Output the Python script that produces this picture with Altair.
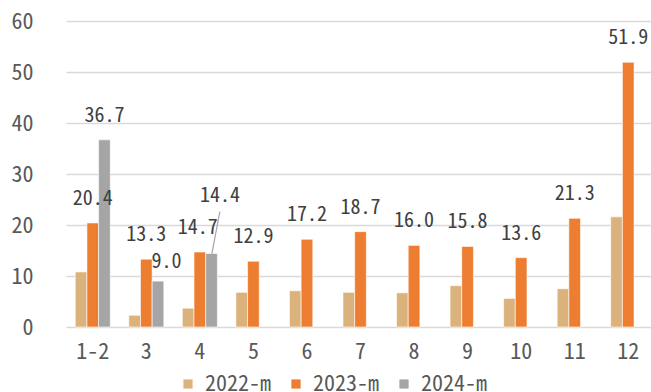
import altair as alt
import pandas as pd

# Monthly values per series
months = ["1-2", "3", "4", "5", "6", "7", "8", "9", "10", "11", "12"]
series = ["2022-m", "2023-m", "2024-m"]
v2022 = [10.8, 2.3, 3.7, 6.8, 7.1, 6.8, 6.7, 8.1, 5.6, 7.5, 21.6]
v2023 = [20.4, 13.3, 14.7, 12.9, 17.2, 18.7, 16.0, 15.8, 13.6, 21.3, 51.9]
v2024 = [36.7, 9.0, 14.4]
colors = ["#DBB27C", "#ED7D31", "#A5A5A5"]

rows = []
for name, vals in zip(series, [v2022, v2023, v2024]):
    for m, v in zip(months, vals):
        rows.append({"month": m, "series": name, "value": v})
df = pd.DataFrame(rows)

FONT = "Noto Sans Mono CJK SC, DejaVu Sans Mono"

x_scale = alt.Scale(domain=months, range=[0, 589], paddingInner=0.346, paddingOuter=0.173)
x_enc = alt.X("month:N", scale=x_scale, sort=months,
              axis=alt.Axis(title=None, labelAngle=0, ticks=False, domain=False,
                            labelFontSize=22, labelColor="#595959", labelPadding=14))
xo_enc = alt.XOffset("series:N", scale=alt.Scale(domain=series, paddingInner=0, paddingOuter=0))
y_enc = alt.Y("value:Q", scale=alt.Scale(domain=[0, 60], nice=False),
              axis=alt.Axis(title=None, values=[0, 10, 20, 30, 40, 50, 60], ticks=False,
                            domain=False, labelFontSize=22, labelColor="#595959",
                            labelPadding=33, gridColor="#D9D9D9", gridWidth=1.5))

base = alt.Chart(df)

bars = base.mark_bar(stroke="white", strokeWidth=0.6).encode(
    x=x_enc,
    xOffset=xo_enc,
    y=y_enc,
    color=alt.Color("series:N", scale=alt.Scale(domain=series, range=colors),
                    legend=alt.Legend(title=None, orient="none", direction="horizontal",
                                      legendX=111, legendY=352, padding=0,
                                      symbolType="square", symbolSize=85,
                                      symbolStrokeWidth=0, labelFontSize=22,
                                      labelColor="#595959", labelOffset=6,
                                      columnPadding=13)),
)

text_style = dict(fontSize=20, color="#404040", baseline="middle", align="center")
text_enc = dict(x=alt.X("month:N", scale=x_scale, sort=months), xOffset=xo_enc,
                y="value:Q", text=alt.Text("value:Q", format=".1f"))

labels_std = base.mark_text(dy=-24, **text_style).encode(**text_enc).transform_filter(
    "datum.series != '2022-m' && !(datum.series == '2024-m' && datum.month != '1-2')"
    " && !(datum.series == '2023-m' && datum.month == '4')"
)
label_47 = base.mark_text(dy=-24, dx=-2, **text_style).encode(**text_enc).transform_filter(
    "datum.series == '2023-m' && datum.month == '4'"
)
label_90 = base.mark_text(dy=-19, dx=8.5, **text_style).encode(**text_enc).transform_filter(
    "datum.series == '2024-m' && datum.month == '3'"
)
label_144 = base.mark_text(dy=-58, dx=8.5, **text_style).encode(**text_enc).transform_filter(
    "datum.series == '2024-m' && datum.month == '4'"
)

# Leader line from the 14.4 label down to its bar
leader = base.mark_rule(color="#A6A6A6", strokeWidth=1.2, xOffset=12, x2Offset=20,
                        y2Offset=-42).encode(
    x=alt.X("month:N", scale=x_scale, sort=months, bandPosition=0.5),
    x2=alt.X2("month:N", bandPosition=0.5),
    y="value:Q",
    y2="value:Q",
).transform_filter("datum.series == '2024-m' && datum.month == '4'")

chart = alt.layer(bars, leader, labels_std, label_47, label_90, label_144).properties(
    width=585, height=306,
    padding={"left": 66, "top": 21, "right": 0, "bottom": 65},
    autosize=alt.AutoSizeParams(type="none"),
).configure(font=FONT).configure_view(stroke=None).configure_axis(labelFont=FONT).configure_legend(labelFont=FONT)

chart.save("out.html", embed_options={"renderer": "svg", "actions": False})
